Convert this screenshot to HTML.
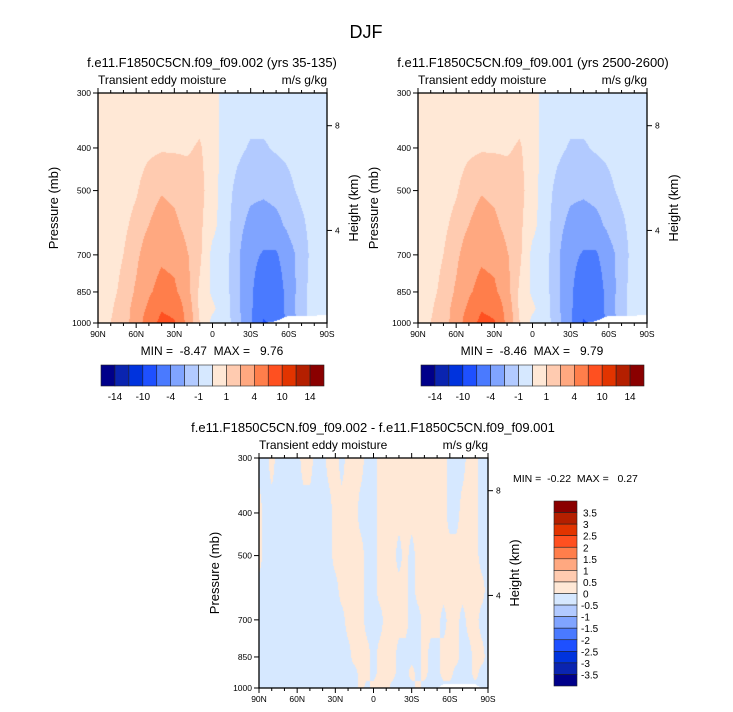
<!DOCTYPE html>
<html><head><meta charset="utf-8"><style>
body{margin:0;background:#fff;width:733px;height:712px;position:relative;overflow:hidden;font-family:"Liberation Sans",Arial,sans-serif;}
canvas{position:absolute;}
svg{position:absolute;left:0;top:0;}
text{white-space:pre;}
</style></head><body>
<canvas id="cA" style="left:98px;top:93px" width="229" height="230"></canvas>
<canvas id="cB" style="left:418px;top:93px" width="229" height="230"></canvas>
<canvas id="cC" style="left:259px;top:458px" width="229" height="230"></canvas>
<svg id="s" width="733" height="712"></svg>
<script>
const levelsTop=[-14,-12,-10,-8,-4,-2,-1,0,1,2,4,8,10,12,14];
const levelsDiff=[-3.5,-3,-2.5,-2,-1.5,-1,-0.5,0,0.5,1,1.5,2,2.5,3,3.5];
const colors=["#00008a","#0a24b0","#0033dd","#1e50ff","#4a7aff","#80a4ff","#b2caff","#d6e8ff","#ffe8d6","#ffcbb0","#ffa880","#ff7e4b","#ff5020","#e23400","#b41f00","#8a0000"];
const presLevels=[300,400,500,600,700,850,925,1000];
const latsTop=[90,80,70,60,50,40,30,20,10,0,-10,-20,-30,-40,-50,-60,-70,-80,-90];
const valsA=[
[.5,.5,.5,.5,.5,.5,.5,.5,.5,.5,-.5,-.5,-.5,-.5,-.5,-.5,-.5,-.5,-.5],
[.5,.5,.5,.6,.8,.9,.9,.9,1.1,.5,-.5,-.8,-1.1,-1.1,-.9,-.8,-.6,-.5,-.5],
[.5,.5,.6,.9,1.5,1.9,1.7,1.4,1.3,.5,-.6,-1.3,-1.7,-1.8,-1.6,-1.2,-.8,-.6,-.5],
[.5,.6,.8,1.3,2.0,2.6,2.3,1.6,1.2,.3,-.6,-1.6,-2.4,-2.6,-2.4,-1.7,-1.2,-.6,-.5],
[.5,.7,1.0,1.7,2.8,3.5,3.2,2.1,1.2,-.3,-.6,-1.8,-3.1,-4.3,-4.3,-2.5,-1.5,-.6,-.5],
[.5,.8,1.2,2.2,3.6,5.0,4.5,2.4,.8,-.2,-.6,-1.8,-3.4,-6.5,-5.8,-2.8,-1.3,-.6,-.5],
[.5,.9,1.4,2.5,4.5,7.5,6.5,2.8,.8,.2,-.6,-1.7,-3.5,-7.0,-6.0,-2.6,-1.3,-.6,-.5],
[.5,1.0,1.5,2.6,5.5,9.5,8.5,3.0,1.0,-.3,-.6,-1.5,-3.4,-8.4,-7.0,-3,-1.3,-.6,-.5]];
const valsB=[
[.5,.5,.5,.5,.5,.5,.5,.5,.5,.5,-.5,-.5,-.5,-.5,-.5,-.5,-.5,-.5,-.5],
[.5,.5,.5,.6,.8,.9,.9,.9,1.1,.5,-.5,-.8,-1.1,-1.1,-.9,-.8,-.6,-.5,-.5],
[.5,.5,.6,.9,1.5,1.9,1.7,1.4,1.3,.5,-.6,-1.3,-1.7,-1.8,-1.6,-1.2,-.8,-.6,-.5],
[.5,.6,.8,1.3,2.0,2.6,2.3,1.6,1.2,.3,-.6,-1.6,-2.4,-2.6,-2.4,-1.7,-1.2,-.6,-.5],
[.5,.7,1.0,1.7,2.8,3.5,3.2,2.1,1.2,-.3,-.6,-1.8,-3.1,-4.3,-4.3,-2.5,-1.5,-.6,-.5],
[.5,.8,1.2,2.2,3.6,5.0,4.5,2.4,.8,-.2,-.6,-1.8,-3.4,-6.5,-5.8,-2.8,-1.3,-.6,-.5],
[.5,.9,1.4,2.5,4.5,7.5,6.5,2.8,.8,.2,-.6,-1.7,-3.5,-7.0,-6.0,-2.6,-1.3,-.6,-.5],
[.5,1.0,1.5,2.6,5.5,9.5,8.5,3.0,1.0,-.3,-.6,-1.5,-3.4,-8.4,-7.0,-3,-1.3,-.6,-.5]];
const surfTop=[1001,1001,1001,1001,1001,1001,1001,1001,1001,1001,1001,1001,1001,1001,990,962,962,962,960];
const latsDiff=[90,85,80,75,70,65,60,55,50,45,40,35,30,25,20,15,10,5,0,-5,-10,-15,-20,-25,-30,-35,-40,-45,-50,-55,-60,-65,-70,-75,-80,-85,-90];
const valsC=[
[-.1,-.1,.1,-.1,-.1,-.1,-.1,.1,.1,-.1,-.1,.1,.1,-.1,.1,.1,.1,-.1,-.1,.1,.1,.1,.1,.1,.1,.1,.1,.1,.1,.1,-.1,-.1,-.1,.1,.1,-.1,-.1],
[.1,-.1,-.1,-.1,-.1,-.1,-.1,-.1,-.1,-.1,-.1,-.1,.1,.1,.1,.1,-.1,-.1,-.1,.1,.1,.1,.1,.1,.1,.1,.1,.1,.1,.1,-.1,-.1,.1,.1,.1,-.1,-.1],
[.1,-.1,-.1,-.1,-.1,-.1,-.1,-.1,-.1,-.1,-.1,-.1,.1,.1,.1,.1,.1,-.1,-.1,.1,.1,.1,-.1,.1,-.1,.1,.1,.1,.1,.1,.1,.1,.1,.1,.1,-.1,-.1],
[-.1,-.1,-.1,-.1,-.1,-.1,-.1,-.1,-.1,-.1,-.1,-.1,-.1,.1,.1,.1,.1,-.1,-.1,.1,.1,.1,.1,.1,-.1,.1,.1,.1,.1,.1,.1,.1,.1,.1,.1,.1,-.1],
[-.1,-.1,-.1,-.1,-.1,-.1,-.1,-.1,-.1,-.1,-.1,-.1,-.1,-.1,.1,.1,.1,-.1,-.1,-.1,.1,.1,.1,.1,-.1,-.1,.1,.1,.1,-.1,.1,.1,-.1,.1,.1,-.1,-.1],
[-.1,-.1,-.1,-.1,-.1,-.1,-.1,-.1,-.1,-.1,-.1,-.1,-.1,-.1,-.1,.1,.1,.1,-.1,.1,.1,.1,-.1,-.1,-.1,-.1,.1,-.1,-.1,.1,.1,.1,-.1,-.1,.1,.1,-.1],
[-.1,-.1,-.1,-.1,-.1,-.1,-.1,-.1,-.1,-.1,-.1,-.1,-.1,-.1,-.1,-.1,.1,.1,-.1,.1,.1,.1,-.1,-.1,.1,-.1,.1,-.1,-.1,.1,.1,-.1,-.1,-.1,.1,-.1,-.1],
[-.1,-.1,-.1,-.1,-.1,-.1,-.1,-.1,-.1,-.1,-.1,-.1,-.1,-.1,-.1,-.1,.1,-.1,.1,.1,.1,-.1,-.1,-.1,-.1,.1,-.1,-.1,-.1,-.1,-.1,-.1,-.1,-.1,-.1,-.1,-.1]];
const surfDiff=[1001,1001,1001,1001,1001,1001,1001,1001,1001,1001,1001,1001,1001,1001,1001,1001,1001,1001,1001,1001,1001,1001,1001,1001,1001,1001,1001,1001,1001,980,980,980,980,980,980,1001,1001];
const ticksP=[300,400,500,700,850,1000];
const ticksLat=[90,60,30,0,-30,-60,-90];
const latLabels=["90N","60N","30N","0","30S","60S","90S"];
const heightTicks=[[8,356],[4,616]];

const W=229,H=230;
function yOfP(p){return H*Math.log(p/300)/Math.log(1000/300);}
function xOfLat(l){return W*(90-l)/180;}
function hex(c){return [parseInt(c.substr(1,2),16),parseInt(c.substr(3,2),16),parseInt(c.substr(5,2),16)];}
function colorIdx(v,lev){let i=0;while(i<lev.length&&v>=lev[i])i++;return i;}
function drawField(id,lats,vals,surf,lev){
  const cv=document.getElementById(id),ctx=cv.getContext('2d');
  const img=ctx.createImageData(W,H);const cols=colors.map(hex);
  for(let py=0;py<H;py++){
    const p=300*Math.pow(1000/300,(py+0.5)/H);
    let r=0;while(r<presLevels.length-2&&p>presLevels[r+1])r++;
    const tr=(Math.log(p)-Math.log(presLevels[r]))/(Math.log(presLevels[r+1])-Math.log(presLevels[r]));
    for(let px=0;px<W;px++){
      const lat=90-180*(px+0.5)/W;
      let c=0;while(c<lats.length-2&&lat<lats[c+1])c++;
      const tc=(lats[c]-lat)/(lats[c]-lats[c+1]);
      const v=(1-tr)*((1-tc)*vals[r][c]+tc*vals[r][c+1])+tr*((1-tc)*vals[r+1][c]+tc*vals[r+1][c+1]);
      const sp=(1-tc)*surf[c]+tc*surf[c+1];
      const k=(py*W+px)*4;
      let rgb=[255,255,255];
      if(p<=sp) rgb=cols[colorIdx(v,lev)];
      img.data[k]=rgb[0];img.data[k+1]=rgb[1];img.data[k+2]=rgb[2];img.data[k+3]=255;
    }
  }
  ctx.putImageData(img,0,0);
}
drawField('cA',latsTop,valsA,surfTop,levelsTop);
drawField('cB',latsTop,valsB,surfTop,levelsTop);
drawField('cC',latsDiff,valsC,surfDiff,levelsDiff);

const svg=document.getElementById('s');const NS='http://www.w3.org/2000/svg';
function el(tag,attrs,text){const e=document.createElementNS(NS,tag);for(const k in attrs)e.setAttribute(k,attrs[k]);if(text!==undefined)e.textContent=text;svg.appendChild(e);return e;}
function txt(x,y,s,size,anchor,name,rot){const e=el('text',{x:x,y:y,'font-size':size,'text-anchor':anchor||'middle','font-family':'Liberation Sans, Arial, sans-serif',fill:'#000'},s);
  if(rot)e.setAttribute('transform','rotate(-90 '+x+' '+y+')');
  
  return e;}
function line(x1,y1,x2,y2,w){const e=el('line',{x1:x1,y1:y1,x2:x2,y2:y2,stroke:'#000','stroke-width':w||1});
  
  }

txt(366,38,'DJF',18,'middle','main-title');
function panel(x0,y0,title,titleX,name){
  const fr=el('rect',{x:x0,y:y0,width:W,height:H,fill:'none',stroke:'#000','stroke-width':1.3});
  
  
  txt(titleX,y0-26,title,13,'middle',name+'-title');
  txt(x0,y0-9,'Transient eddy moisture',12,'start',name+'-variable-label');
  txt(x0+W,y0-9,'m/s g/kg',12,'end',name+'-units-label');
  for(let l=90;l>=-90;l-=10){const x=x0+xOfLat(l);const major=(l%30===0);const len=major?5:3;
    line(x,y0+H,x,y0+H+len);line(x,y0,x,y0-len);}
  ticksLat.forEach((l,i)=>txt(x0+xOfLat(l),y0+H+14,latLabels[i],8.5,'middle','x-tick-label'));
  ticksP.forEach(p=>{const y=y0+yOfP(p);line(x0-5,y,x0,y);txt(x0-7,y+3,String(p),8.5,'end','y-tick-label');});
  heightTicks.forEach(h=>{const y=y0+yOfP(h[1]);line(x0+W,y,x0+W+5,y);txt(x0+W+8,y+3,String(h[0]),8.5,'start','height-tick-label');});
  txt(x0-40,y0+H/2,'Pressure (mb)',13,'middle','y-axis-title',true);
  txt(x0+W+31,y0+H/2,'Height (km)',13,'middle','height-axis-title',true);
}
panel(98,93,'f.e11.F1850C5CN.f09_f09.002 (yrs 35-135)',212,'left-panel');
panel(418,93,'f.e11.F1850C5CN.f09_f09.001 (yrs 2500-2600)',533,'right-panel');
panel(259,458,'f.e11.F1850C5CN.f09_f09.002 - f.e11.F1850C5CN.f09_f09.001',373,'diff-panel');
txt(212,355,'MIN =  -8.47  MAX =   9.76',12,'middle','left-min-max');
txt(532,355,'MIN =  -8.46  MAX =   9.79',12,'middle','right-min-max');
txt(513,482,'MIN =  -0.22  MAX =   0.27',10.5,'start','diff-min-max');

const hLabels=[[1,'-14'],[3,'-10'],[5,'-4'],[7,'-1'],[9,'1'],[11,'4'],[13,'10'],[15,'14']];
function hbar(x0,name){const w=(324-101)/16;
  colors.forEach((c,i)=>{const r=el('rect',{x:x0+i*w,y:365,width:w,height:21,fill:c,stroke:'#222','stroke-width':0.6});
    
    });
  hLabels.forEach(l=>txt(x0+l[0]*w,400,l[1],10,'middle',name+'-label'));}
hbar(101,'left-colorbar');hbar(421,'right-colorbar');
const vLabels=["3.5","3","2.5","2","1.5","1","0.5","0","-0.5","-1","-1.5","-2","-2.5","-3","-3.5"];
(function(){const h=(686-501)/16;
  for(let i=0;i<16;i++){const r=el('rect',{x:554,y:501+i*h,width:23,height:h,fill:colors[15-i],stroke:'#222','stroke-width':0.6});
    
    }
  vLabels.forEach((s,i)=>txt(s[0]==='-'?581:583,501+(i+1)*h+4,s,10,'start','diff-colorbar-label'));})();
</script>
</body></html>
